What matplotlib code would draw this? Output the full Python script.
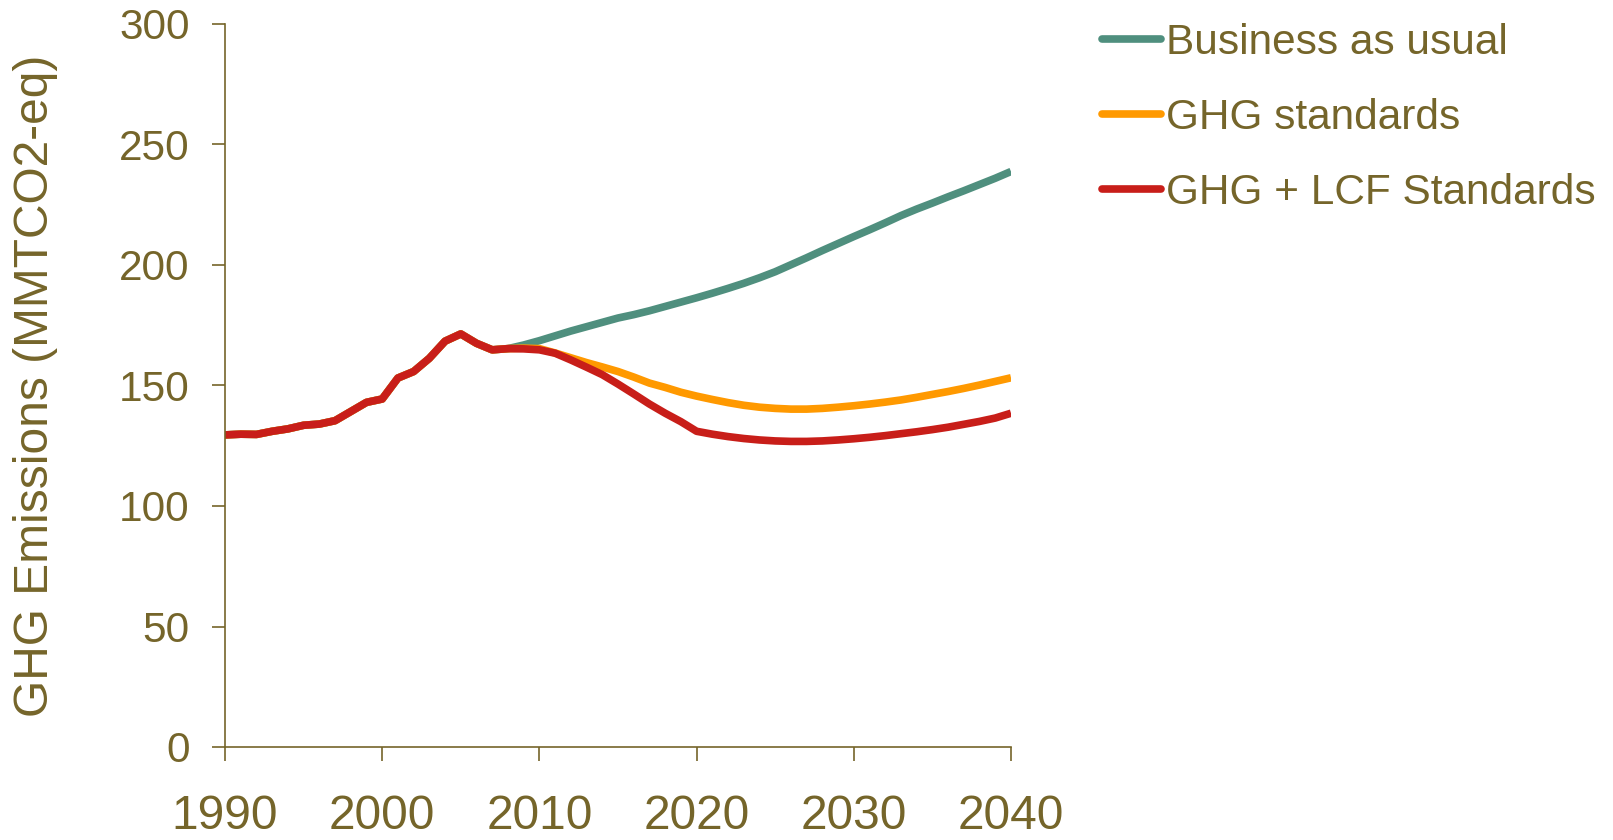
import numpy as np
import matplotlib
matplotlib.use('Agg')
import matplotlib.pyplot as plt

plt.rcParams['font.family'] = ['Liberation Sans', 'DejaVu Sans']

TXT = '#75652A'

years_hist = list(range(1990, 2009))
hist = [129.5, 129.8, 129.7, 131.0, 132.0, 133.5, 134.0, 135.4, 139.2, 143.0,
        144.4, 153.1, 155.8, 161.3, 168.4, 171.4, 167.5, 164.8, 165.3]

years_proj = list(range(2009, 2041))
bau = [166.8, 168.6, 170.6, 172.6, 174.4, 176.2, 178.0, 179.4, 181.0, 182.8,
       184.6, 186.4, 188.3, 190.3, 192.4, 194.7, 197.2, 200.1, 203.0, 206.0,
       208.9, 211.8, 214.6, 217.5, 220.5, 223.2, 225.7, 228.3, 230.8, 233.4,
       236.0, 238.8]
ghg = [165.5, 165.3, 163.5, 161.5, 159.5, 157.7, 155.8, 153.5, 151.0, 149.2,
       147.2, 145.6, 144.2, 142.9, 141.8, 141.0, 140.5, 140.2, 140.2, 140.5,
       141.0, 141.6, 142.3, 143.1, 144.0, 145.1, 146.3, 147.5, 148.8, 150.2,
       151.7, 153.2]
lcf = [165.2, 164.8, 163.4, 160.6, 157.6, 154.5, 150.6, 146.5, 142.3, 138.5,
       135.0, 131.0, 129.8, 128.8, 128.0, 127.4, 127.0, 126.8, 126.8, 127.0,
       127.4, 127.9, 128.5, 129.2, 130.0, 130.8, 131.7, 132.7, 133.9, 135.1,
       136.5, 138.5]

labels = ['Business as usual', 'GHG standards', 'GHG + LCF Standards']
colors = ['#4F8F7E', '#FF9900', '#C81E19']

years = years_hist + years_proj
series = [hist + bau, hist + ghg, hist + lcf]

fig = plt.figure(figsize=(16.13, 8.4), dpi=100)
ax = fig.add_axes([225 / 1613, 1 - 747 / 840, (1011 - 225) / 1613, (747 - 24) / 840])

for vals, c, lab in zip(series, colors, labels):
    ax.plot(years, vals, color=c, lw=5.5, label=lab, solid_capstyle='butt',
            solid_joinstyle='round')

ax.set_xlim(1990, 2040)
ax.set_ylim(0, 300)
ax.set_xticks(range(1990, 2041, 10))
ax.set_yticks(range(0, 301, 50))

for s in ['top', 'right']:
    ax.spines[s].set_visible(False)
for s in ['left', 'bottom']:
    ax.spines[s].set_color(TXT)
    ax.spines[s].set_linewidth(1.2)

ax.tick_params(axis='y', direction='out', length=9.5, width=1.2, color=TXT,
               labelcolor=TXT, labelsize=30.5, pad=16)
ax.tick_params(axis='x', direction='out', length=10, width=1.2, color=TXT,
               labelcolor=TXT, labelsize=34.5, pad=24)

ax.set_ylabel('GHG Emissions (MMTCO2-eq)', color=TXT, fontsize=34.5, va='center')
ax.yaxis.set_label_coords(-(225 - 36) / 786, 0.5)

leg = fig.legend(loc='upper left', bbox_to_anchor=(1102 / 1613, 1 - 22.5 / 840),
                 frameon=False, fontsize=30.5, handlelength=1.4,
                 handletextpad=0.1, labelspacing=0.83, borderpad=0,
                 borderaxespad=0)
for t in leg.get_texts():
    t.set_color(TXT)
for h in leg.get_lines():
    h.set_solid_capstyle('round')
    h.set_linewidth(5.5)

fig.savefig('out.png', dpi=100)
